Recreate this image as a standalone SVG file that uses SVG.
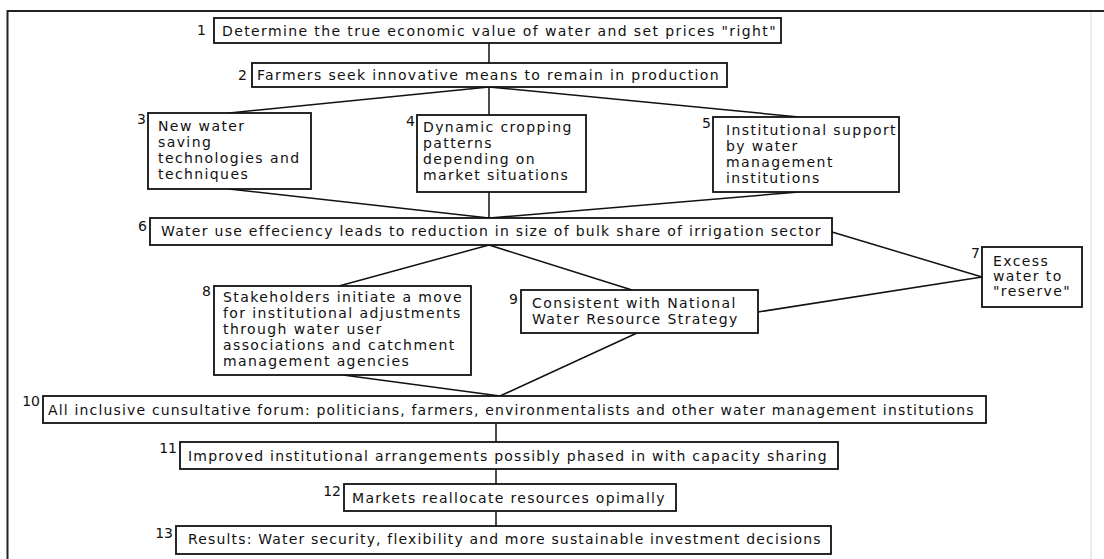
<svg xmlns="http://www.w3.org/2000/svg" width="1104" height="559" viewBox="0 0 1104 559">
<style>
.box{fill:#fff;stroke:#111;stroke-width:1.8}
.t{font-family:"DejaVu Sans",Verdana,sans-serif;font-size:14px;fill:#111;letter-spacing:1.4px}
.n{font-family:"DejaVu Sans",Verdana,sans-serif;font-size:14px;fill:#111;text-anchor:end}
.c line{stroke:#111;stroke-width:1.5}
</style>
<rect width="1104" height="559" fill="#fff"/>
<g id="frame">
<line x1="7.5" y1="11" x2="1104" y2="11" stroke="#222" stroke-width="2"/>
<line x1="7.5" y1="10" x2="7.5" y2="559" stroke="#222" stroke-width="2"/>
<line x1="1091" y1="12" x2="1091" y2="559" stroke="#e4e4e4" stroke-width="1.5"/>
</g>
<g class="c" id="connectors">
<line x1="489" y1="43" x2="489" y2="63"/>
<line x1="489" y1="87" x2="229" y2="113"/>
<line x1="489" y1="87" x2="489" y2="115"/>
<line x1="489" y1="87" x2="799" y2="117"/>
<line x1="229" y1="189" x2="489" y2="218"/>
<line x1="489" y1="192" x2="489" y2="218"/>
<line x1="799" y1="192" x2="489" y2="218"/>
<line x1="832" y1="232" x2="982" y2="277"/>
<line x1="758" y1="312" x2="982" y2="277"/>
<line x1="489" y1="245" x2="339" y2="286"/>
<line x1="489" y1="245" x2="632" y2="290"/>
<line x1="343" y1="375" x2="500" y2="396"/>
<line x1="637" y1="333" x2="500" y2="396"/>
<line x1="496" y1="423" x2="496" y2="442"/>
<line x1="496" y1="469" x2="496" y2="484"/>
<line x1="496" y1="511" x2="496" y2="526"/>
</g>
<g id="n1">
<rect class="box" x="214" y="18" width="567" height="25"/>
<text class="n" x="206" y="35">1</text>
<text class="t" x="222" y="36" textLength="555" lengthAdjust="spacing">Determine the true economic value of water and set prices "right"</text>
</g>
<g id="n2">
<rect class="box" x="252" y="63" width="475" height="24"/>
<text class="n" x="247" y="80">2</text>
<text class="t" x="257" y="80" textLength="463" lengthAdjust="spacing">Farmers seek innovative means to remain in production</text>
</g>
<g id="n3">
<rect class="box" x="148" y="113" width="163" height="76"/>
<text class="n" x="146" y="124">3</text>
<text class="t" x="158" y="131">New water</text>
<text class="t" x="158" y="147">saving</text>
<text class="t" x="158" y="163">technologies and</text>
<text class="t" x="158" y="179">techniques</text>
</g>
<g id="n4">
<rect class="box" x="417" y="115" width="169" height="77"/>
<text class="n" x="415" y="126">4</text>
<text class="t" x="423" y="132">Dynamic cropping</text>
<text class="t" x="423" y="148">patterns</text>
<text class="t" x="423" y="164">depending on</text>
<text class="t" x="423" y="180">market situations</text>
</g>
<g id="n5">
<rect class="box" x="713" y="117" width="186" height="75"/>
<text class="n" x="711" y="128">5</text>
<text class="t" x="726" y="135">Institutional support</text>
<text class="t" x="726" y="151">by water</text>
<text class="t" x="726" y="167">management</text>
<text class="t" x="726" y="183">institutions</text>
</g>
<g id="n6">
<rect class="box" x="150" y="218" width="682" height="27"/>
<text class="n" x="147" y="231">6</text>
<text class="t" x="161" y="236" textLength="661" lengthAdjust="spacing">Water use effeciency leads to reduction in size of bulk share of irrigation sector</text>
</g>
<g id="n7">
<rect class="box" x="982" y="247" width="100" height="60"/>
<text class="n" x="980" y="258">7</text>
<text class="t" x="993" y="266">Excess</text>
<text class="t" x="993" y="281">water to</text>
<text class="t" x="993" y="296">"reserve"</text>
</g>
<g id="n8">
<rect class="box" x="214" y="286" width="257" height="89"/>
<text class="n" x="211" y="296">8</text>
<text class="t" x="223" y="302">Stakeholders initiate a move</text>
<text class="t" x="223" y="318">for institutional adjustments</text>
<text class="t" x="223" y="334">through water user</text>
<text class="t" x="223" y="350">associations and catchment</text>
<text class="t" x="223" y="366">management agencies</text>
</g>
<g id="n9">
<rect class="box" x="521" y="290" width="237" height="43"/>
<text class="n" x="518" y="304">9</text>
<text class="t" x="532" y="308">Consistent with National</text>
<text class="t" x="532" y="324">Water Resource Strategy</text>
</g>
<g id="n10">
<rect class="box" x="43" y="396" width="943" height="27"/>
<text class="n" x="40" y="406">10</text>
<text class="t" x="48" y="415" textLength="927" lengthAdjust="spacing">All inclusive cunsultative forum: politicians, farmers, environmentalists and other water management institutions</text>
</g>
<g id="n11">
<rect class="box" x="180" y="442" width="658" height="27"/>
<text class="n" x="177" y="453">11</text>
<text class="t" x="188" y="461" textLength="640" lengthAdjust="spacing">Improved institutional arrangements possibly phased in with capacity sharing</text>
</g>
<g id="n12">
<rect class="box" x="344" y="484" width="332" height="27"/>
<text class="n" x="341" y="496">12</text>
<text class="t" x="352" y="503" textLength="314" lengthAdjust="spacing">Markets reallocate resources opimally</text>
</g>
<g id="n13">
<rect class="box" x="176" y="526" width="655" height="28"/>
<text class="n" x="173" y="538">13</text>
<text class="t" x="188" y="544" textLength="634" lengthAdjust="spacing">Results: Water security, flexibility and more sustainable investment decisions</text>
</g>
</svg>
